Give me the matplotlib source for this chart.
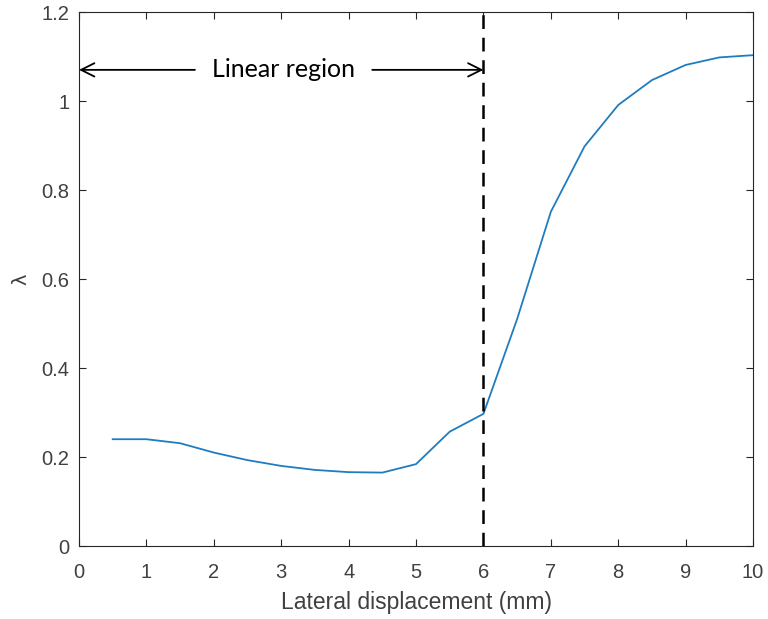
import matplotlib
matplotlib.use("Agg")
import matplotlib.pyplot as plt

# Lateral displacement (mm) and measured lambda
displacement = [0.5, 1.0, 1.5, 2.0, 2.5, 3.0, 3.5, 4.0, 4.5, 5.0,
                5.5, 6.0, 6.5, 7.0, 7.5, 8.0, 8.5, 9.0, 9.5, 10.0]
lam = [0.240, 0.240, 0.231, 0.210, 0.193, 0.180, 0.171, 0.166, 0.165, 0.184,
       0.257, 0.297, 0.510, 0.751, 0.898, 0.991, 1.047, 1.081, 1.098, 1.103]

x_ticks = [0, 1, 2, 3, 4, 5, 6, 7, 8, 9, 10]
y_ticks = [0, 0.2, 0.4, 0.6, 0.8, 1.0, 1.2]
y_tick_labels = ["0", "0.2", "0.4", "0.6", "0.8", "1", "1.2"]

linear_end = 6.0
arrow_level = 1.07

fig = plt.figure(figsize=(7.68, 6.19), dpi=100)
ax = fig.add_axes([0.1029, 0.1179, 0.8776, 0.8627])

ax.plot(displacement, lam, color="#1f7dbf", linewidth=1.3)
ax.plot([linear_end, linear_end], [0, 1.2], color="black",
        linestyle=(0, (5.5, 3.5)), linewidth=1.8)

ax.annotate("", xy=(0, arrow_level), xytext=(1.72, arrow_level),
            arrowprops=dict(arrowstyle="->", color="black", lw=1.3,
                            mutation_scale=24, shrinkA=0, shrinkB=0))
ax.annotate("", xy=(linear_end, arrow_level), xytext=(4.35, arrow_level),
            arrowprops=dict(arrowstyle="->", color="black", lw=1.3,
                            mutation_scale=24, shrinkA=0, shrinkB=0))
ax.text(3.03, arrow_level, "Linear region", ha="center", va="center",
        fontsize=18, family="Lato", color="black")

ax.set_xlim(0, 10)
ax.set_ylim(0, 1.2)
ax.set_xticks(x_ticks)
ax.set_yticks(y_ticks)
ax.set_yticklabels(y_tick_labels)

tick_color = "#404040"
ax.tick_params(direction="in", length=5, width=0.8, colors="#262626",
               labelcolor=tick_color, labelsize=14.5, top=True, right=True)
ax.tick_params(axis="x", pad=12)
ax.tick_params(axis="y", pad=7)
for lbl in ax.get_xticklabels() + ax.get_yticklabels():
    lbl.set_family("Liberation Sans")
for s in ax.spines.values():
    s.set_color("#262626")
    s.set_linewidth(0.8)

ax.set_xlabel("Lateral displacement (mm)", fontsize=16.5,
              family="Liberation Sans", color=tick_color, labelpad=7)
ax.set_ylabel("λ", fontsize=14, family="DejaVu Sans", color=tick_color,
              labelpad=8)

fig.savefig("out.png", dpi=100)
